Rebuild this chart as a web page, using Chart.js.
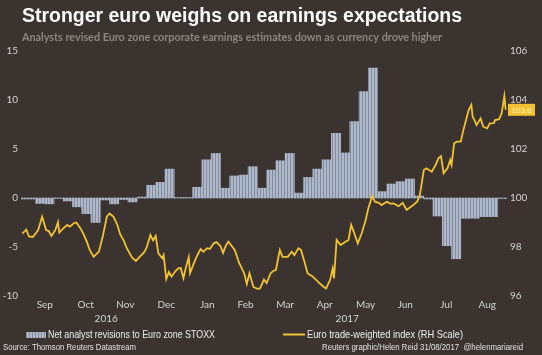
<!DOCTYPE html>
<html><head><meta charset="utf-8">
<script src="https://cdn.jsdelivr.net/npm/chart.js@4.4.1/dist/chart.umd.min.js"></script>
<style>
html,body{margin:0;padding:0;background:#3a3330;overflow:hidden;}
#wrap{position:relative;width:542px;height:355px;}
</style></head><body>
<div id="wrap"><canvas id="c" width="542" height="355"></canvas></div>
<script>
const titleText = "Stronger euro weighs on earnings expectations";
const subtitleText = "Analysts revised Euro zone corporate earnings estimates down as currency drove higher";
const sourceText = "Source: Thomson Reuters Datastream";
const creditText = "Reuters graphic/Helen Reid 31/08/2017  @helenmariareid";
const barSeriesName = "Net analyst revisions to Euro zone STOXX";
const lineSeriesName = "Euro trade-weighted index (RH Scale)";

// x values are days since 1 Sep 2016
const monthLabels = ["Sep","Oct","Nov","Dec","Jan","Feb","Mar","Apr","May","Jun","Jul","Aug"];
const monthTickDays = [14,45,75,106,137,166,196,226,257,287,318,349];
const yearLabels = ["2016","2017"];
const yearMidDays = [60.5,243];

// weekly net analyst revisions (left scale), first week starts 7 days before 1 Sep 2016
const revisionFirstWeekStart = -7;
const revisionValues = [-0.1,-0.1,-0.55,-0.6,-0.05,-0.3,-0.9,-1.6,-2.5,-0.2,-0.6,-0.15,-0.4,0.1,
  1.3,1.6,2.95,0.05,0.05,1.1,3.9,4.55,1.0,2.25,2.35,3.2,1.0,2.85,3.8,4.55,0.5,2.1,2.95,3.9,6.6,4.6,
  7.8,10.85,13.25,0.65,1.43,1.67,1.94,0.2,-0.1,-1.84,-4.87,-6.2,-2.07,-2.07,-1.9,-1.9,-0.05];

// euro trade-weighted index (right scale)
const indexDays = [-3,0,2,5,9,12,15,17,19,22,24,25,28,31,33,36,38,41,43,46,48,51,55,58,61,63,66,69,71,74,76,80,83,86,89,91,94,96,98,100,103,104,106,108,110,113,115,117,119,121,123,124,127,129,132,134,137,139,142,144,147,149,151,153,156,158,161,165,167,169,172,175,177,180,182,185,187,189,192,194,198,201,203,206,208,211,213,217,221,225,227,230,232,233,235,238,242,244,246,248,251,254,257,259,262,264,267,269,273,276,278,282,285,288,292,296,298,301,303,307,310,312,314,316,319,321,322,324,326,329,331,333,335,337,338,339,341,344,346,349,351,354,355,358,360,362,363];
const indexValues = [98.55,98.71,98.43,98.41,98.69,99.24,98.69,98.65,98.45,98.69,99.02,98.59,98.76,98.90,98.83,98.97,99.00,98.76,98.57,98.20,97.88,97.60,97.81,98.45,99.24,99.37,99.24,98.90,98.53,98.24,97.96,97.57,97.43,97.61,97.77,97.96,98.49,98.27,98.45,97.74,97.54,97.67,96.69,96.98,96.79,97.02,97.13,97.14,96.73,97.20,97.59,96.93,97.35,97.61,97.92,97.81,97.95,97.92,98.15,98.20,98.04,97.76,98.04,98.22,98.01,97.86,97.37,96.93,96.49,96.93,96.37,96.29,96.31,96.67,96.53,96.93,97.02,97.06,97.88,97.60,97.60,97.81,97.67,97.95,97.88,97.33,96.93,96.79,96.58,96.38,96.31,96.65,97.13,96.72,98.29,98.08,98.22,98.29,98.90,98.62,98.15,98.56,99.10,99.58,100.08,99.85,99.80,99.71,99.85,99.76,99.78,99.67,99.80,99.51,99.67,99.85,100.12,101.14,101.21,101.07,101.35,101.62,101.71,101.01,101.22,101.55,101.35,102.23,102.30,102.30,102.78,103.18,103.59,103.80,103.31,103.22,102.98,103.25,102.91,102.84,103.05,103.06,103.18,103.22,103.46,104.16,103.60];

const barColorLight = '#aeb8cb';
const barColorDark = '#858d9d';
const lineColor = '#f2c231';

function makeStripe(){
  const c = document.createElement('canvas'); c.width = 3; c.height = 4;
  const g = c.getContext('2d');
  g.fillStyle = barColorLight; g.fillRect(0,0,3,4);
  g.fillStyle = barColorDark; g.fillRect(2,0,1,4);
  return g.createPattern(c,'repeat');
}
const stripe = makeStripe();

const barData = revisionValues.map((v,i)=>({x: revisionFirstWeekStart + 7*i + 3.5, y: v}));
const lineData = indexDays.map((d,i)=>({x: d, y: indexValues[i]}));

const decor = {
  id: 'decor',
  afterDraw(chart){
    const ctx = chart.ctx, xs = chart.scales.x, yR = chart.scales.yR, ca = chart.chartArea;
    ctx.save();
    ctx.textAlign = 'left'; ctx.textBaseline = 'alphabetic';
    ctx.fillStyle = '#ffffff';
    ctx.font = 'bold 20px "Liberation Sans", Arial, sans-serif';
    ctx.fillText(titleText, 22, 22, 440);
    ctx.fillStyle = '#8c8581';
    ctx.font = 'bold 11px Lato, sans-serif';
    ctx.fillText(subtitleText, 22, 41, 420);
    // years
    ctx.fillStyle = '#d6d6d6';
    ctx.font = '10px Lato, sans-serif';
    ctx.textAlign = 'center'; ctx.textBaseline = 'middle';
    yearLabels.forEach((t,i)=>ctx.fillText(t, xs.getPixelForValue(yearMidDays[i]), 319));
    // legend
    ctx.textAlign = 'left'; ctx.textBaseline = 'alphabetic';
    ctx.fillStyle = stripe;
    ctx.fillRect(26, 332, 20, 6);
    ctx.fillStyle = '#eeeeee';
    ctx.font = '11px "Liberation Sans", Arial, sans-serif';
    ctx.fillText(barSeriesName, 48, 338, 167);
    ctx.strokeStyle = lineColor; ctx.lineWidth = 2;
    ctx.beginPath(); ctx.moveTo(283, 334.5); ctx.lineTo(305, 334.5); ctx.stroke();
    ctx.fillText(lineSeriesName, 307, 338, 156);
    // footer
    ctx.fillStyle = '#e2e2e2';
    ctx.font = '9px "Liberation Sans", Arial, sans-serif';
    ctx.fillText(sourceText, 3, 350, 133);
    ctx.fillText(creditText, 322, 350, 201);
    // last value box
    const last = indexValues[indexValues.length-1];
    const yb = yR.getPixelForValue(last);
    ctx.fillStyle = lineColor;
    ctx.fillRect(ca.right + 1, yb - 6, 27, 12);
    ctx.fillStyle = '#fff4c8';
    ctx.font = '8px "Liberation Sans", Arial, sans-serif';
    ctx.textAlign = 'center'; ctx.textBaseline = 'middle';
    ctx.fillText(last.toFixed(1), ca.right + 14.5, yb + 0.5);
    ctx.restore();
  }
};

const tickFont = {family: 'Lato, sans-serif', size: 10};
const tickColor = '#d4d4d4';

new Chart(document.getElementById('c'), {
  type: 'bar',
  data: {
    datasets: [
      {type: 'line', label: lineSeriesName, data: lineData, yAxisID: 'yR', borderColor: lineColor,
       borderWidth: 1.8, pointRadius: 0, tension: 0, fill: false, order: 0},
      {type: 'bar', label: barSeriesName, data: barData, yAxisID: 'y', backgroundColor: stripe,
       borderWidth: 0, barPercentage: 1, categoryPercentage: 1, order: 1}
    ]
  },
  options: {
    responsive: false, animation: false, events: [],
    layout: {padding: {top: 51, bottom: 45, left: 0, right: 0}},
    plugins: {legend: {display: false}, tooltip: {enabled: false}, title: {display: false}},
    scales: {
      x: {type: 'linear', min: -4, max: 364, offset: false,
          grid: {display: false, drawTicks: false}, border: {display: false},
          afterBuildTicks: s => { s.ticks = monthTickDays.map(v => ({value: v})); },
          afterFit: s => { s.height = 14; },
          ticks: {autoSkip: false, maxRotation: 0, padding: 3, font: tickFont, color: tickColor,
                  callback: (v, i) => monthLabels[i]}},
      y: {type: 'linear', position: 'left', min: -10, max: 15,
          grid: {display: false, drawTicks: false}, border: {display: false},
          afterFit: s => { s.width = 21; },
          ticks: {stepSize: 5, padding: 3, font: tickFont, color: tickColor}},
      yR: {type: 'linear', position: 'right', min: 96, max: 106,
          grid: {display: false, drawTicks: false}, border: {display: false},
          afterFit: s => { s.width = 35; },
          ticks: {stepSize: 2, padding: 3, font: tickFont, color: tickColor}}
    }
  },
  plugins: [decor]
});
</script>
</body></html>
